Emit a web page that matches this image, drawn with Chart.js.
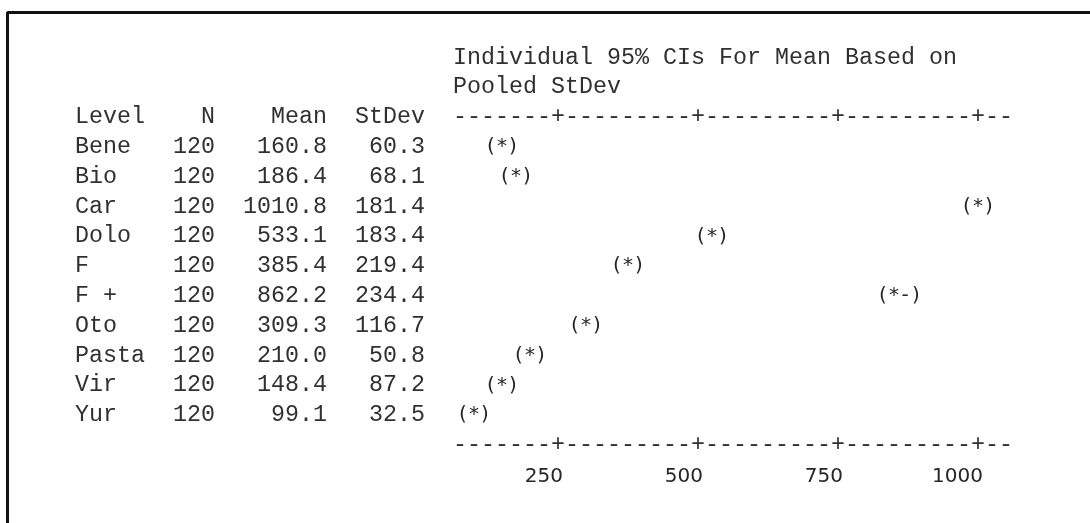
<!DOCTYPE html>
<html>
<head>
<meta charset="utf-8">
<title>One-way ANOVA - Individual 95% CIs</title>
<script src="https://cdn.jsdelivr.net/npm/chart.js@4.4.0/dist/chart.umd.min.js"></script>
<style>
  html, body { margin: 0; padding: 0; background: #fff; }
  #wrap { position: relative; width: 1090px; height: 523px; overflow: hidden; }
  #frame { position: absolute; left: 6px; top: 11px; width: 1200px; height: 600px;
           border-left: 3px solid #111; border-top: 3px solid #111; border-top-left-radius: 3px; }
  canvas { position: absolute; left: 0; top: 0; }
</style>
</head>
<body>
<div id="wrap">
  <div id="frame"></div>
  <canvas id="myChart" width="1090" height="523"></canvas>
</div>
<script>
var levels = ["Bene", "Bio", "Car", "Dolo", "F", "F +", "Oto", "Pasta", "Vir", "Yur"];
var nObs = [120, 120, 120, 120, 120, 120, 120, 120, 120, 120];
var means = [160.8, 186.4, 1010.8, 533.1, 385.4, 862.2, 309.3, 210.0, 148.4, 99.1];
var stdevs = [60.3, 68.1, 181.4, 183.4, 219.4, 234.4, 116.7, 50.8, 87.2, 32.5];
var ciMarks = ["(*)", "(*)", "(*)", "(*)", "(*)", "(*-)", "(*)", "(*)", "(*)", "(*)"];
var xTicks = [250, 500, 750, 1000];
var titleLines = ["Individual 95% CIs For Mean Based on", "Pooled StDev"];
var headers = ["Level", "N", "Mean", "StDev"];

// text grid (monospace cells)
var CHAR = 14;
var COL0 = 75;
var TABLE_FONT = '23.33px "Liberation Mono", "Courier New", monospace';
var PLOT_FONT = '20px "DejaVu Sans", sans-serif';
var MARK_STEP = 11;  // marks are drawn a bit tighter than the table
var PLOT_COL = 27;   // first column of the plot area
var PLOT_LEN = 40;   // width of the dashed axis in chars

function cellX(c){
    return COL0 + c*CHAR + CHAR/2;
}

function drawChars(ctx, str, startCol, y){
    for(var k = 0; k < str.length; k++){
        if(str[k] != " "){
            ctx.fillText(str[k], cellX(startCol + k), y);
        }
    }
}

function rightText(ctx, str, endCol, y){
    drawChars(ctx, str, endCol - str.length + 1, y);
}

function snapCol(px){
    return Math.round((px - COL0 - CHAR/2) / CHAR);
}

var textPlot = {
    id: 'textPlot',
    afterDraw: function(chart){
        var ctx = chart.ctx;
        var xs = chart.scales.x;
        var ys = chart.scales.y;
        ctx.save();
        ctx.textBaseline = 'middle';
        ctx.textAlign = 'center';
        ctx.fillStyle = '#303030';
        ctx.font = TABLE_FONT;

        //title lines above the plot
        drawChars(ctx, titleLines[0], PLOT_COL, ys.getPixelForValue(-3));
        drawChars(ctx, titleLines[1], PLOT_COL, ys.getPixelForValue(-2));

        //header row
        var hy = ys.getPixelForValue(-1);
        drawChars(ctx, headers[0], 0, hy);
        rightText(ctx, headers[1], 9, hy);
        rightText(ctx, headers[2], 17, hy);
        rightText(ctx, headers[3], 24, hy);

        //table rows
        for(var i = 0; i < levels.length; i++){
            var ry = ys.getPixelForValue(i);
            drawChars(ctx, levels[i], 0, ry);
            rightText(ctx, String(nObs[i]), 9, ry);
            rightText(ctx, means[i].toFixed(1), 17, ry);
            rightText(ctx, stdevs[i].toFixed(1), 24, ry);
        }

        //dashed axis with + at the ticks
        var axis = [];
        for(var c = 0; c < PLOT_LEN; c++){
            axis.push("-");
        }
        var tickCols = [];
        for(var t = 0; t < xTicks.length; t++){
            var tc = snapCol(xs.getPixelForValue(xTicks[t]));
            tickCols.push(tc);
            axis[tc - PLOT_COL] = "+";
        }
        drawChars(ctx, axis.join(""), PLOT_COL, ys.getPixelForValue(-1));
        drawChars(ctx, axis.join(""), PLOT_COL, ys.getPixelForValue(10));

        //tick labels, right edge on the + cell
        ctx.font = PLOT_FONT;
        ctx.fillStyle = '#262626';
        ctx.textAlign = 'right';
        for(var t = 0; t < xTicks.length; t++){
            ctx.fillText(String(xTicks[t]), cellX(tickCols[t]) + CHAR/2 - 2, ys.getPixelForValue(11) + 2);
        }

        //CI marks, star snapped to the text grid
        ctx.textAlign = 'center';
        var meta = chart.getDatasetMeta(0);
        for(var i = 0; i < meta.data.length; i++){
            var pt = meta.data[i];
            var mark = ciMarks[i];
            var cx = cellX(snapCol(pt.x));
            var star = mark.indexOf("*");
            for(var k = 0; k < mark.length; k++){
                ctx.fillText(mark[k], cx + (k - star)*MARK_STEP, pt.y);
            }
        }
        ctx.restore();
    }
};

var chartData = {
    datasets: [{
        label: 'Mean',
        data: means.map(function(m, i){ return {x: m, y: i}; }),
        pointRadius: 0,
        pointHoverRadius: 0
    }]
};

var myChart = new Chart(document.getElementById("myChart").getContext("2d"), {
    type: 'scatter',
    data: chartData,
    options: {
        responsive: false,
        devicePixelRatio: 1,
        animation: false,
        events: [],
        layout: { padding: { left: 451, right: 79, top: 132, bottom: 93 } },
        plugins: {
            legend: { display: false },
            tooltip: { enabled: false }
        },
        scales: {
            x: { type: 'linear', min: 59, max: 1059, display: false },
            y: { type: 'linear', min: -0.5, max: 9.5, reverse: true, display: false }
        }
    },
    plugins: [textPlot]
});
</script>
</body>
</html>
